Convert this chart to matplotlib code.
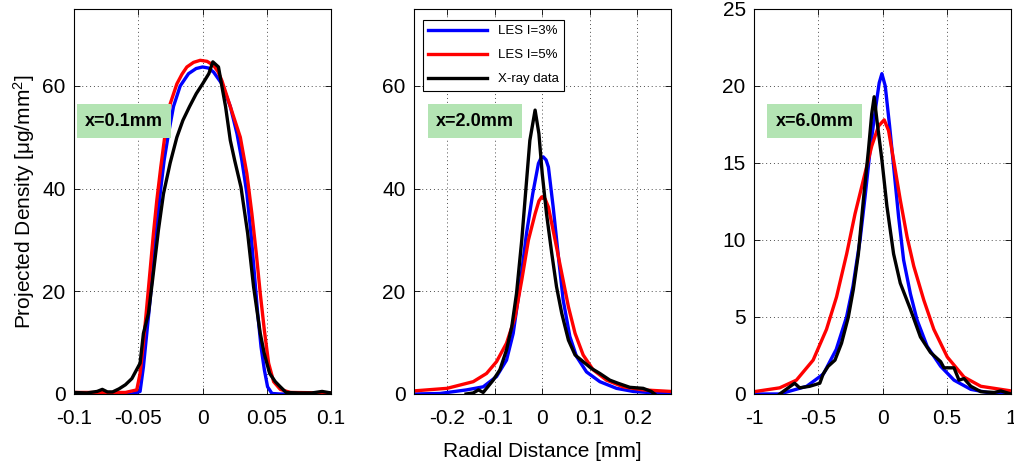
import numpy as np
import matplotlib
matplotlib.use("Agg")
import matplotlib.pyplot as plt

plt.rcParams["font.family"] = ["Liberation Sans", "DejaVu Sans"]
plt.rcParams["mathtext.fontset"] = "custom"
plt.rcParams["mathtext.rm"] = "Liberation Sans"
plt.rcParams["mathtext.it"] = "Liberation Sans:italic"

# ---- panel 1: x = 0.1 mm ----
p1_blue_x = [-0.1, -0.055, -0.0486, -0.046, -0.0434, -0.0408, -0.0382, -0.0356, -0.033, -0.0299,
             -0.0265, -0.0226, -0.0174, -0.0109, -0.005, 0.0, 0.0045, 0.0086, 0.0151, 0.0216,
             0.0268, 0.0306, 0.0345, 0.0377, 0.0403, 0.0429, 0.0455, 0.0481, 0.0506, 0.054,
             0.06, 0.1]
p1_blue_y = [0.0, 0.0, 0.5, 5.3, 11.8, 18.3, 25.4, 32.6, 39.0, 45.5,
             50.7, 56.0, 60.0, 62.4, 63.4, 63.7, 63.5, 62.7, 60.4, 56.0,
             50.7, 45.5, 39.0, 31.3, 23.5, 15.7, 9.2, 4.7, 1.4, 0.1,
             0.0, 0.0]
p1_red_x = [-0.1, -0.06, -0.0512, -0.0486, -0.046, -0.0434, -0.0408, -0.0382, -0.0356, -0.0325,
            -0.0291, -0.0252, -0.02, -0.016, -0.0122, -0.007, -0.0018, 0.0035, 0.0086, 0.012,
            0.0151, 0.0216, 0.0294, 0.0345, 0.0384, 0.0418, 0.0449, 0.0481, 0.0514, 0.0553,
            0.0605, 0.0683, 0.1]
p1_red_y = [0.3, 0.3, 0.8, 4.0, 9.9, 17.0, 24.1, 31.3, 37.7, 44.2,
            50.7, 56.5, 60.4, 62.3, 63.7, 64.6, 65.0, 64.8, 64.0, 62.8,
            61.0, 56.0, 50.0, 42.9, 35.1, 27.4, 19.6, 12.4, 6.0, 2.4,
            0.9, 0.3, 0.2]
p1_xray_x = [-0.1, -0.09, -0.082, -0.078, -0.074, -0.07, -0.065, -0.06, -0.055, -0.0486,
             -0.046, -0.0421, -0.039, -0.0343, -0.0304, -0.0252, -0.02, -0.0153, -0.0101, -0.0049,
             0.0, 0.0049, 0.008, 0.0124, 0.015, 0.0179, 0.0216, 0.025, 0.0299, 0.0351,
             0.0397, 0.0449, 0.048, 0.0522, 0.0566, 0.0605, 0.065, 0.075, 0.085, 0.093, 0.1]
p1_xray_y = [0.3, 0.2, 0.5, 0.9, 0.4, 0.4, 1.0, 1.8, 3.0, 6.0,
             11.8, 15.7, 22.0, 32.0, 39.0, 45.0, 50.0, 53.3, 56.0, 58.5,
             60.4, 62.4, 64.7, 63.7, 60.0, 56.0, 49.4, 45.5, 40.3, 31.3,
             20.9, 11.8, 7.9, 4.0, 2.4, 1.4, 0.3, 0.2, 0.2, 0.5, 0.2]

# ---- panel 2: x = 2.0 mm ----
p2_blue_x = [-0.27, -0.215, -0.159, -0.124, -0.096, -0.075, -0.061, -0.047, -0.033, -0.020,
             -0.008, -0.003, 0.002, 0.008, 0.013, 0.023, 0.034, 0.044, 0.058, 0.072,
             0.093, 0.121, 0.156, 0.191, 0.27]
p2_blue_y = [0.0, 0.1, 0.8, 1.4, 3.4, 6.6, 11.8, 20.9, 31.3, 39.0,
             44.9, 45.9, 46.2, 45.6, 44.2, 36.4, 26.7, 18.3, 11.2, 7.3,
             4.3, 2.4, 1.1, 0.5, 0.0]
p2_red_x = [-0.27, -0.2, -0.145, -0.117, -0.096, -0.075, -0.057, -0.043, -0.029, -0.015,
            -0.007, -0.001, 0.006, 0.013, 0.027, 0.041, 0.055, 0.069, 0.086, 0.107,
            0.135, 0.17, 0.212, 0.27]
p2_red_y = [0.6, 1.1, 2.4, 4.0, 6.3, 9.9, 15.0, 22.2, 30.0, 35.1,
            37.6, 38.4, 38.0, 36.4, 30.0, 23.5, 17.0, 11.8, 7.6, 4.7,
            2.7, 1.4, 0.8, 0.5]
p2_xray_x = [-0.16, -0.145, -0.134, -0.124, -0.103, -0.089, -0.075, -0.064, -0.054, -0.043,
             -0.034, -0.026, -0.015, -0.007, 0.0, 0.009, 0.02, 0.03, 0.041, 0.055,
             0.069, 0.086, 0.103, 0.121, 0.142, 0.159, 0.184, 0.212, 0.229, 0.236]
p2_xray_y = [0.0, 0.2, 0.8, 0.3, 2.7, 4.7, 8.6, 13.1, 19.6, 30.0,
             40.3, 49.4, 55.3, 50.7, 42.9, 35.1, 27.4, 20.9, 15.7, 10.5,
             7.6, 6.3, 5.0, 4.0, 2.7, 2.1, 1.3, 1.1, 0.5, 0.0]

# ---- panel 3: x = 6.0 mm ----
p3_blue_x = [-1.0, -0.8, -0.59, -0.46, -0.36, -0.28, -0.23, -0.175, -0.136, -0.097,
             -0.057, -0.026, -0.005, 0.021, 0.055, 0.086, 0.125, 0.164, 0.217, 0.269,
             0.347, 0.452, 0.556, 0.687, 0.817, 1.0]
p3_blue_y = [0.0, 0.0, 0.5, 1.3, 2.9, 5.0, 7.0, 10.0, 12.8, 15.8,
             18.4, 20.2, 20.8, 20.0, 17.4, 14.8, 11.5, 8.7, 6.5, 4.8,
             3.1, 1.8, 0.9, 0.3, 0.1, 0.0]
p3_red_x = [-1.0, -0.8, -0.67, -0.54, -0.436, -0.358, -0.279, -0.214, -0.149, -0.084,
            -0.031, 0.013, 0.047, 0.086, 0.138, 0.191, 0.243, 0.321, 0.399, 0.504,
            0.634, 0.765, 1.0]
p3_red_y = [0.15, 0.4, 0.9, 2.2, 4.2, 6.3, 9.1, 11.7, 13.9, 16.1,
            17.4, 17.8, 17.1, 15.2, 12.6, 10.2, 8.3, 6.1, 4.2, 2.4,
            1.1, 0.5, 0.2]
p3_xray_x = [-0.8, -0.75, -0.684, -0.645, -0.567, -0.488, -0.462, -0.423, -0.37, -0.319,
             -0.266, -0.227, -0.188, -0.149, -0.11, -0.084, -0.065, -0.044, -0.005, 0.034,
             0.086, 0.138, 0.217, 0.295, 0.373, 0.452, 0.478, 0.556, 0.595, 0.634,
             0.687, 0.765, 0.87, 0.92, 1.0]
p3_xray_y = [0.0, 0.3, 0.7, 0.4, 0.5, 0.7, 1.3, 1.8, 2.2, 3.3,
             5.0, 6.8, 9.1, 12.6, 15.8, 18.2, 19.3, 17.8, 15.2, 12.2,
             9.1, 7.2, 5.5, 3.7, 2.7, 2.1, 1.7, 1.7, 0.9, 1.0,
             0.5, 0.15, 0.1, 0.2, 0.0]

labels = ["LES I=3%", "LES I=5%", "X-ray data"]
positions = ["x=0.1mm", "x=2.0mm", "x=6.0mm"]

panels = [
    dict(data=[(p1_blue_x, p1_blue_y), (p1_red_x, p1_red_y), (p1_xray_x, p1_xray_y)],
         xlim=(-0.1, 0.1), xticks=[-0.1, -0.05, 0, 0.05, 0.1], xtl=["-0.1", "-0.05", "0", "0.05", "0.1"],
         ylim=(0, 75), yticks=[0, 20, 40, 60], tx=0.193),
    dict(data=[(p2_blue_x, p2_blue_y), (p2_red_x, p2_red_y), (p2_xray_x, p2_xray_y)],
         xlim=(-0.27, 0.27), xticks=[-0.2, -0.1, 0, 0.1, 0.2], xtl=["-0.2", "-0.1", "0", "0.1", "0.2"],
         ylim=(0, 75), yticks=[0, 20, 40, 60], tx=0.237),
    dict(data=[(p3_blue_x, p3_blue_y), (p3_red_x, p3_red_y), (p3_xray_x, p3_xray_y)],
         xlim=(-1, 1), xticks=[-1, -0.5, 0, 0.5, 1], xtl=["-1", "-0.5", "0", "0.5", "1"],
         ylim=(0, 25), yticks=[0, 5, 10, 15, 20, 25], tx=0.235),
]
colors = ["#0000ff", "#ff0000", "#000000"]

fig = plt.figure(figsize=(10.14, 4.65), dpi=100)
lefts = [0.073, 0.408, 0.7436]
axes = []
for i, p in enumerate(panels):
    ax = fig.add_axes([lefts[i], 0.1527, 0.2535, 0.828])
    for (xs, ys), c, lab in zip(p["data"], colors, labels):
        ax.plot(xs, ys, color=c, lw=2.4, label=lab)
    ax.set_xlim(*p["xlim"])
    ax.set_ylim(*p["ylim"])
    ax.set_xticks(p["xticks"])
    ax.set_xticklabels(p["xtl"])
    ax.set_yticks(p["yticks"])
    ax.tick_params(direction="in", top=True, right=True, labelsize=15, length=4, width=0.6)
    ax.tick_params(axis="x", pad=11)
    ax.tick_params(axis="y", pad=6)
    ax.grid(True, color="0.3", linestyle=(0, (1, 3)), linewidth=0.7)
    for s in ax.spines.values():
        s.set_linewidth(0.8)
    ax.text(p["tx"], 0.709, positions[i], transform=ax.transAxes, ha="center", va="center",
            fontsize=13, fontweight="bold",
            bbox=dict(boxstyle="square,pad=0.45", facecolor="#b3e4b3", edgecolor="none"))
    axes.append(ax)

axes[0].set_ylabel("Projected Density [μg/mm$^2$]", fontsize=15)
axes[1].set_xlabel("Radial Distance [mm]", fontsize=15, labelpad=10)
leg = axes[1].legend(loc="upper left", bbox_to_anchor=(0.035, 0.972), borderaxespad=0,
                     fontsize=9.5, fancybox=False, framealpha=1, edgecolor="black",
                     handlelength=4.5, labelspacing=0.9)
leg.get_frame().set_linewidth(0.8)

fig.savefig("out.png", dpi=100)
